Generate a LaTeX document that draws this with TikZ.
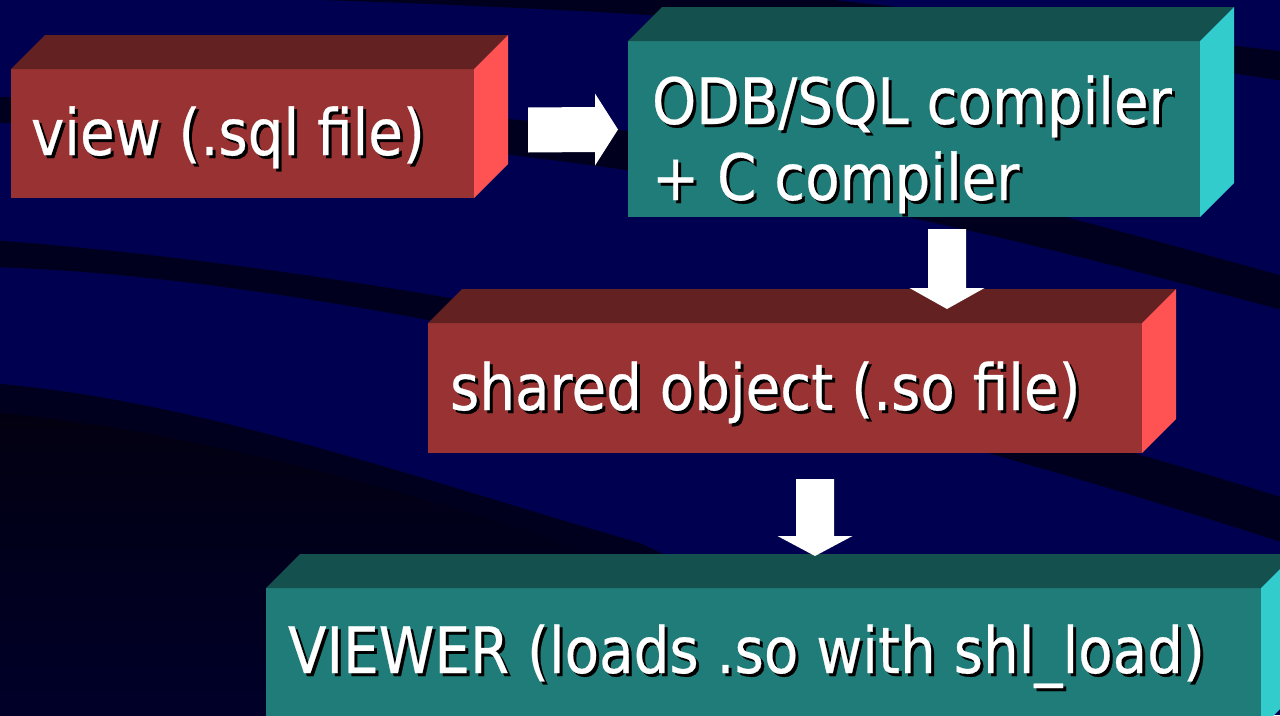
\documentclass[tikz,border=0pt]{standalone}
\usepackage{fontspec}
\setmainfont{DejaVu Sans}[FakeStretch=0.88, FakeBold=0.4]
\usetikzlibrary{calc}

\definecolor{navy}{RGB}{0,0,80}
\definecolor{bandcol}{RGB}{0,0,30}
\definecolor{deepcol}{RGB}{2,0,16}
\definecolor{deeplow}{RGB}{0,0,42}
\definecolor{redfront}{RGB}{153,51,51}
\definecolor{redtop}{RGB}{99,33,33}
\definecolor{redside}{RGB}{255,82,82}
\definecolor{tealfront}{RGB}{31,124,121}
\definecolor{tealtop}{RGB}{20,80,78}
\definecolor{tealside}{RGB}{51,204,204}

\tikzset{
  face/.style={inner sep=0pt, outer sep=0pt, draw=none, anchor=north west},
  label/.style={inner sep=0pt, outer sep=0pt, anchor=base west, text=white,
    font=\fontsize{64}{64}\selectfont},
  blockarrow/.style={fill=white},
}

% depth of the extruded boxes
\newcommand{\dep}{34}

% front face as a named node, top and right faces drawn from its anchors
% #1 name, #2 x, #3 y, #4 width, #5 height, #6 front, #7 top, #8 side
\newcommand{\cubebox}[8]{%
  \node[face, fill=#6, minimum width=#4pt, minimum height=#5pt] (#1) at (#2,#3) {};
  \fill[#7] (#1.north west) -- ++(\dep,-\dep) -- ($(#1.north east)+(\dep,-\dep)$)
    -- (#1.north east) -- cycle;
  \fill[#8] (#1.north east) -- ++(\dep,-\dep) -- ($(#1.south east)+(\dep,-\dep)$)
    -- (#1.south east) -- cycle;
}

% white text over a black copy shifted down and right
\newcommand{\dropped}[1]{\rlap{\kern3pt\raisebox{-3pt}{\color{black}#1}}#1}

\begin{document}
\begin{tikzpicture}[x=1pt, y=-1pt]
\useasboundingbox (0,0) rectangle (1280,715);
\fill[navy] (0,0) rectangle (1280,715);

% dark swooshes of the backdrop
\begin{scope}
  \clip (0,0) rectangle (1280,715);
  \fill[bandcol] (150,-5) .. controls (500,4) and (900,20) .. (1290,82)
    -- (1290,52) .. controls (1000,20) and (800,-8) .. (600,-20) -- cycle;
  \fill[bandcol] (-10,97) .. controls (250,100) and (500,112) .. (700,140)
    .. controls (900,170) and (1100,225) .. (1290,278)
    -- (1290,312) .. controls (1100,262) and (900,205) .. (640,172)
    .. controls (450,145) and (250,124) .. (-10,123) -- cycle;
  \fill[bandcol] (-10,240) .. controls (300,262) and (800,345) .. (1290,500)
    -- (1290,545) .. controls (800,385) and (300,275) .. (-10,267) -- cycle;
  \fill[bandcol] (-10,383) .. controls (200,400) and (420,480) .. (640,543)
    -- (760,600) -- (760,720) -- (-10,720) -- cycle;
  \shade[top color=deepcol, bottom color=deeplow]
    (-10,412) .. controls (170,428) and (400,485) .. (600,556)
    -- (700,720) -- (-10,720) -- cycle;
\end{scope}

% boxes
\cubebox{view}{11}{69}{463}{129}{redfront}{redtop}{redside}
\cubebox{compiler}{628}{41}{572}{176}{tealfront}{tealtop}{tealside}
\cubebox{shared}{428}{323}{714}{130}{redfront}{redtop}{redside}
\cubebox{viewer}{266}{588}{995}{140}{tealfront}{tealtop}{tealside}

% labels
\node[label] (viewtext) at (31,155) {\dropped{view (.sql file)}};
\node[label] (comptexta) at (652,124) {\dropped{ODB/SQL compiler}};
\node[label] (comptextb) at (652,200) {\dropped{+ C compiler}};
\node[label] (sharedtext) at (450,410) {\dropped{shared object (.so file)}};
\node[label] (viewertext) at (288,673) {\dropped{VIEWER (loads .so with shl\_load)}};

% block arrows between the boxes
\coordinate (a1s) at ($(view.east)+(54,-3.5)$);
\coordinate (a1e) at ($(compiler.west)+(-10,0.5)$);
\fill[blockarrow] ($(a1s)+(0,-22.5)$) -- ($(a1e)+(-23,-22.5)$) -- ($(a1e)+(-23,-36)$)
  -- (a1e) -- ($(a1e)+(-23,36)$) -- ($(a1e)+(-23,22.5)$) -- ($(a1s)+(0,22.5)$) -- cycle;

\coordinate (a2s) at ($(compiler.south west)+(319,12)$);
\coordinate (a2e) at ($(shared.north west)+(519,-14)$);
\fill[blockarrow] ($(a2s)+(-19,0)$) -- ($(a2e)+(-19,-21)$) -- ($(a2e)+(-37.5,-21)$)
  -- (a2e) -- ($(a2e)+(37.5,-21)$) -- ($(a2e)+(19,-21)$) -- ($(a2s)+(19,0)$) -- cycle;

\coordinate (a3s) at ($(shared.south west)+(387,26)$);
\coordinate (a3e) at ($(viewer.north west)+(549,-32)$);
\fill[blockarrow] ($(a3s)+(-19,0)$) -- ($(a3e)+(-19,-20)$) -- ($(a3e)+(-37.5,-20)$)
  -- (a3e) -- ($(a3e)+(37.5,-20)$) -- ($(a3e)+(19,-20)$) -- ($(a3s)+(19,0)$) -- cycle;
\end{tikzpicture}
\end{document}
